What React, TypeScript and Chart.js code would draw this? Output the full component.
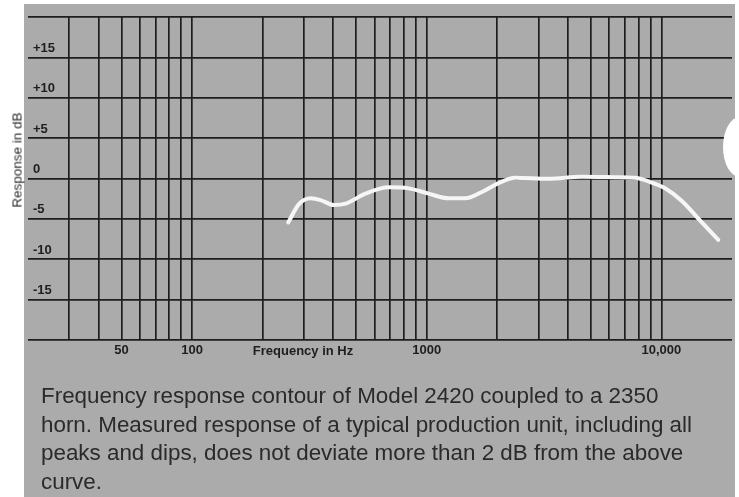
import React, { useEffect, useRef } from "react";
import { Chart, registerables } from "chart.js";

Chart.register(...registerables);

// ---- data ----
const freqHz = [257, 285, 320, 353, 402, 451, 548, 689, 838, 1020, 1240, 1460, 1720, 2025, 2385, 3305, 4580, 6355, 7730, 8810, 10370, 12200, 14370, 17490];
const responseDb = [-5.45, -3.2, -2.46, -2.67, -3.29, -3.12, -1.88, -1.09, -1.22, -1.88, -2.46, -2.46, -1.67, -0.57, 0.09, -0.04, 0.22, 0.17, 0.09, -0.36, -1.22, -2.76, -4.96, -7.6];
const xGridHz = [30, 40, 50, 60, 70, 80, 90, 100, 200, 300, 400, 500, 600, 700, 800, 900, 1000, 2000, 3000, 4000, 5000, 6000, 7000, 8000, 9000, 10000];
const xLabelHz = [50, 100, 1000, 10000];
const xLabelText = ["50", "100", "1000", "10,000"];
const yLabelDb = [15, 10, 5, 0, -5, -10, -15];
const yLabelText = ["+15", "+10", "+5", "0", "-5", "-10", "-15"];
const xTitle = "Frequency in Hz";
const yTitle = "Response in dB";
const captionLines = [
  "Frequency response contour of Model 2420 coupled to a 2350",
  "horn. Measured response of a typical production unit, including all",
  "peaks and dips, does not deviate more than 2 dB from the above",
  "curve.",
];

const PAPER = "#ababab";
const INK = "#1e1e1e";
const FONT = "'Liberation Sans', Arial, Helvetica, sans-serif";

const paperPlugin = {
  id: "paper",
  beforeDraw(chart: any) {
    const { ctx } = chart;
    ctx.save();
    ctx.fillStyle = "#ffffff";
    ctx.fillRect(0, 0, chart.width, chart.height);
    ctx.fillStyle = PAPER;
    ctx.fillRect(24, 4, 711, chart.height - 4);
    ctx.restore();
  },
  afterDraw(chart: any) {
    const { ctx } = chart;
    ctx.save();
    ctx.fillStyle = "#ffffff";
    ctx.beginPath();
    ctx.ellipse(740, 147, 17, 30, 0, 0, Math.PI * 2);
    ctx.fill();
    ctx.restore();
  },
};

export default function App() {
  const canvasRef = useRef<HTMLCanvasElement | null>(null);

  useEffect(() => {
    const canvas = canvasRef.current;
    if (!canvas) return;
    const chart = new Chart(canvas, {
      type: "line",
      data: {
        datasets: [
          {
            data: freqHz.map((f, i) => ({ x: f, y: responseDb[i] })),
            borderColor: "#f6f6f6",
            borderWidth: 4,
            pointRadius: 0,
            cubicInterpolationMode: "monotone",
            fill: false,
            borderCapStyle: "round",
            borderJoinStyle: "round",
          },
        ],
      },
      options: {
        responsive: false,
        maintainAspectRatio: false,
        animation: false,
        events: [],
        layout: { padding: { left: 18, top: 17, right: 7, bottom: 135.4 } },
        plugins: {
          legend: { display: false },
          tooltip: { enabled: false },
          title: { display: false },
        },
        scales: {
          x: {
            type: "logarithmic",
            min: 20,
            max: 20000,
            afterBuildTicks: (scale: any) => {
              scale.ticks = xGridHz.map((v) => ({ value: v }));
            },
            border: { display: false },
            grid: { color: INK, lineWidth: 1.7, drawTicks: false },
            ticks: {
              autoSkip: false,
              maxRotation: 0,
              minRotation: 0,
              padding: 3,
              color: INK,
              font: { family: FONT, size: 13, weight: "bold" },
              callback: (v: any) => {
                const i = xLabelHz.indexOf(Number(v));
                return i >= 0 ? xLabelText[i] : "";
              },
            },
          },
          y: {
            type: "linear",
            min: -20,
            max: 20,
            border: { display: false },
            grid: { color: INK, lineWidth: 1.7, drawTicks: false },
            ticks: {
              stepSize: 5,
              mirror: true,
              padding: 5,
              labelOffset: -9,
              color: INK,
              font: { family: FONT, size: 13, weight: "bold" },
              callback: (v: any) => {
                const i = yLabelDb.indexOf(Number(v));
                return i >= 0 ? yLabelText[i] : "";
              },
            },
          },
        },
      },
      plugins: [paperPlugin],
    } as any);
    return () => chart.destroy();
  }, []);

  return (
    <div style={{ position: "fixed", left: 0, top: 0, width: 739, height: 497, overflow: "hidden", background: "#fff" }}>
      <canvas ref={canvasRef} width={739} height={497} style={{ position: "absolute", left: 0, top: 0, width: 739, height: 497 }} />
      <div
        style={{
          position: "absolute",
          left: 17,
          top: 160,
          transform: "translate(-50%, -50%) rotate(-90deg)",
          fontFamily: FONT,
          fontSize: 13.5,
          color: "#2a2a2a",
          whiteSpace: "nowrap",
        }}
      >
        {yTitle}
      </div>
      <div
        style={{
          position: "absolute",
          left: 303,
          top: 350,
          transform: "translate(-50%, -50%)",
          fontFamily: FONT,
          fontSize: 13,
          fontWeight: "bold",
          color: INK,
          whiteSpace: "nowrap",
        }}
      >
        {xTitle}
      </div>
      <div
        style={{
          position: "absolute",
          left: 41,
          top: 382,
          fontFamily: FONT,
          fontSize: 22.4,
          lineHeight: "28.5px",
          color: "#2a2a2a",
          whiteSpace: "nowrap",
        }}
      >
        {captionLines.map((l, i) => (
          <div key={i}>{l}</div>
        ))}
      </div>
    </div>
  );
}
